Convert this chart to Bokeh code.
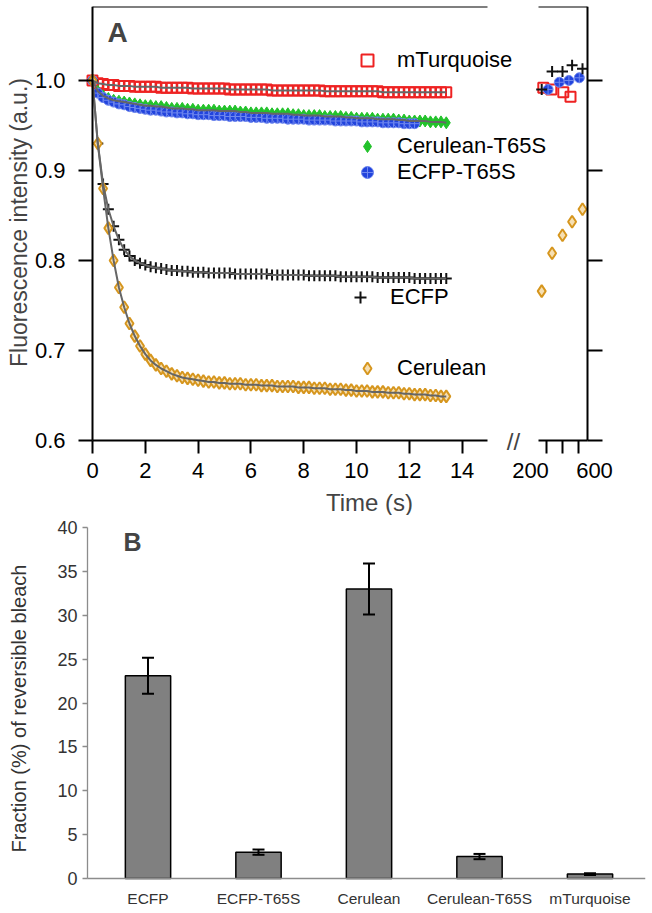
from bokeh.plotting import figure
from bokeh.models import (Range1d, LinearAxis, FixedTicker, NumeralTickFormatter, Legend,
                          LegendItem, Label, ColumnDataSource, Whisker, TeeHead)
from bokeh.layouts import column
from bokeh.embed import file_html
from bokeh.resources import INLINE

FONT = "Liberation Sans"

# ---------------- Panel A data ----------------
time_s = [0.0, 0.2, 0.4, 0.6, 0.8, 1.0, 1.2, 1.4, 1.6, 1.8,
          2.0, 2.2, 2.4, 2.6, 2.8, 3.0, 3.2, 3.4, 3.6, 3.8,
          4.0, 4.2, 4.4, 4.6, 4.8, 5.0, 5.2, 5.4, 5.6, 5.8,
          6.0, 6.2, 6.4, 6.6, 6.8, 7.0, 7.2, 7.4, 7.6, 7.8,
          8.0, 8.2, 8.4, 8.6, 8.8, 9.0, 9.2, 9.4, 9.6, 9.8,
          10.0, 10.2, 10.4, 10.6, 10.8, 11.0, 11.2, 11.4, 11.6, 11.8,
          12.0, 12.2, 12.4, 12.6, 12.8, 13.0, 13.2, 13.4]

mturquoise = [1.000, 0.997, 0.996, 0.995, 0.995, 0.994, 0.994, 0.994, 0.993, 0.993,
              0.993, 0.993, 0.993, 0.992, 0.992, 0.992, 0.992, 0.992, 0.992, 0.991,
              0.991, 0.991, 0.991, 0.991, 0.991, 0.991, 0.990, 0.990, 0.990, 0.990,
              0.990, 0.990, 0.990, 0.990, 0.989, 0.989, 0.989, 0.989, 0.989, 0.989,
              0.989, 0.989, 0.989, 0.989, 0.988, 0.988, 0.988, 0.988, 0.988, 0.988,
              0.988, 0.988, 0.988, 0.988, 0.988, 0.987, 0.987, 0.987, 0.987, 0.987,
              0.987, 0.987, 0.987, 0.987, 0.987, 0.987, 0.987, 0.987]

cerulean_t65s = [1.000, 0.988, 0.983, 0.980, 0.978, 0.977, 0.976, 0.975, 0.974, 0.973,
                 0.972, 0.972, 0.971, 0.971, 0.970, 0.969, 0.969, 0.969, 0.968, 0.968,
                 0.967, 0.967, 0.967, 0.967, 0.966, 0.966, 0.966, 0.966, 0.965, 0.965,
                 0.964, 0.964, 0.964, 0.964, 0.963, 0.963, 0.963, 0.963, 0.962, 0.962,
                 0.961, 0.961, 0.961, 0.961, 0.960, 0.960, 0.960, 0.960, 0.959, 0.959,
                 0.958, 0.958, 0.958, 0.958, 0.957, 0.957, 0.957, 0.957, 0.956, 0.956,
                 0.955, 0.955, 0.955, 0.955, 0.954, 0.954, 0.954, 0.953]

ecfp_t65s = [1.000, 0.986, 0.981, 0.978, 0.976, 0.974, 0.973, 0.971, 0.970, 0.969,
             0.968, 0.967, 0.967, 0.966, 0.965, 0.965, 0.964, 0.964, 0.963, 0.963,
             0.962, 0.962, 0.962, 0.961, 0.961, 0.961, 0.960, 0.960, 0.960, 0.960,
             0.959, 0.959, 0.959, 0.958, 0.958, 0.958, 0.958, 0.957, 0.957, 0.957,
             0.957, 0.956, 0.956, 0.956, 0.956, 0.956, 0.955, 0.955, 0.955, 0.955,
             0.955, 0.954, 0.954, 0.954, 0.954, 0.953, 0.953, 0.953, 0.953, 0.952,
             0.952, 0.952]

ecfp = [1.000, 0.930, 0.885, 0.857, 0.838, 0.823, 0.812, 0.805, 0.800, 0.797,
        0.795, 0.793, 0.792, 0.791, 0.790, 0.789, 0.789, 0.788, 0.788, 0.787,
        0.787, 0.787, 0.786, 0.786, 0.786, 0.786, 0.786, 0.785, 0.785, 0.785,
        0.785, 0.785, 0.785, 0.785, 0.784, 0.784, 0.784, 0.784, 0.784, 0.784,
        0.784, 0.783, 0.783, 0.783, 0.783, 0.783, 0.783, 0.782, 0.782, 0.782,
        0.782, 0.782, 0.782, 0.782, 0.781, 0.781, 0.781, 0.781, 0.781, 0.781,
        0.781, 0.780, 0.780, 0.780, 0.780, 0.780, 0.780, 0.780]

cerulean = [1.000, 0.930, 0.880, 0.836, 0.800, 0.770, 0.748, 0.730, 0.716, 0.705,
            0.696, 0.689, 0.684, 0.680, 0.677, 0.674, 0.672, 0.670, 0.669, 0.668,
            0.667, 0.666, 0.665, 0.665, 0.664, 0.664, 0.663, 0.663, 0.663, 0.662,
            0.662, 0.662, 0.661, 0.661, 0.661, 0.660, 0.660, 0.660, 0.660, 0.659,
            0.659, 0.659, 0.658, 0.658, 0.658, 0.657, 0.657, 0.657, 0.656, 0.656,
            0.655, 0.655, 0.655, 0.654, 0.654, 0.654, 0.653, 0.653, 0.653, 0.652,
            0.652, 0.651, 0.651, 0.651, 0.650, 0.650, 0.649, 0.649]

# recovery in the dark (late time points, s)
late_t_ecfp = [270, 335, 400, 460, 525]
late_ecfp = [0.990, 1.010, 1.010, 1.017, 1.013]
late_t_cerulean = [270, 335, 400, 460, 525]
late_cerulean = [0.766, 0.808, 0.828, 0.843, 0.857]
late_t_mturq = [280, 330, 405, 450]
late_mturq = [0.992, 0.990, 0.987, 0.982]
late_t_ecfp_t65s = [310, 380, 440, 505]
late_ecfp_t65s = [0.990, 0.998, 1.000, 1.003]

y_ticks_a = [0.6, 0.7, 0.8, 0.9, 1.0]
x_ticks_a = [0, 2, 4, 6, 8, 10, 12, 14]
late_ticks = [300, 400, 500]
late_tick_labels = [200, 600]

# ---------------- Panel B data ----------------
proteins = ["ECFP", "ECFP-T65S", "Cerulean", "Cerulean-T65S", "mTurquoise"]
reversible = [23.1, 3.0, 33.0, 2.5, 0.5]
reversible_err = [2.05, 0.3, 2.9, 0.3, 0.1]
y_ticks_b = [0, 5, 10, 15, 20, 25, 30, 35, 40]

# ---------------- styles ----------------
RED = "#ee2222"
GREEN = "#22c22a"
BLUE = "#2244dd"
ORANGE = "#d6961e"
FIT = "#666666"

Y_LO, Y_HI = 0.6, 1.0822          # visible data window of panel A
T0 = 1e-6                         # time origin (y axis position)
MAIN_END = 14.95                  # end of the first time segment
LATE_LO, LATE_HI = 250, 556       # extent of the segment after the break
B_LEFT, B_RIGHT = -0.5475, 4.5025  # extent of the category axis in panel B


def style_axis(ax, ticks, tick_out, size="22px", color="black", width=2):
    ax.ticker = FixedTicker(ticks=ticks)
    ax.axis_line_width = width
    ax.axis_line_color = color
    ax.major_tick_line_width = width
    ax.major_tick_line_color = color
    ax.major_tick_out = tick_out
    ax.major_tick_in = 0
    ax.minor_tick_line_color = None
    ax.major_label_text_font = FONT
    ax.major_label_text_font_size = size
    ax.major_label_text_color = "black"


# ---------------- Panel A ----------------
pA = figure(width=620, height=515,
            x_range=Range1d(-3.485, 19.81), y_range=Range1d(0.51667, Y_HI),
            x_axis_location=None, y_axis_location=None,
            output_backend="svg", toolbar_location=None,
            min_border_left=0, min_border_right=5, min_border_top=6, min_border_bottom=0)
pA.extra_x_ranges = {"late": Range1d(-3112.5, 731.25)}
pA.outline_line_color = None
pA.grid.visible = False

# left axis
yax = LinearAxis(fixed_location=T0, bounds=(Y_LO, Y_HI))
style_axis(yax, y_ticks_a, 14)
yax.formatter = NumeralTickFormatter(format="0.0")
yax.major_label_standoff = 13
pA.add_layout(yax, "left")

# bottom axis, first segment
xax = LinearAxis(fixed_location=Y_LO, bounds=(0, MAIN_END))
style_axis(xax, x_ticks_a, 13)
xax.major_label_standoff = 10
pA.add_layout(xax, "below")

# top border, first segment
top_main = LinearAxis(fixed_location=Y_HI, bounds=(0, MAIN_END))
style_axis(top_main, [], 0)
pA.add_layout(top_main, "above")

# bottom axis after the break
late_ax = LinearAxis(x_range_name="late", fixed_location=Y_LO, bounds=(LATE_LO, LATE_HI))
style_axis(late_ax, late_ticks, 13)
late_ax.major_label_overrides = {v: "" for v in late_ticks}
pA.add_layout(late_ax, "below")

late_lbl = LinearAxis(x_range_name="late", fixed_location=Y_LO)
style_axis(late_lbl, late_tick_labels, 13)
late_lbl.axis_line_color = None
late_lbl.major_tick_line_color = None
late_lbl.major_label_standoff = 10
pA.add_layout(late_lbl, "below")

# top border after the break
top_late = LinearAxis(x_range_name="late", fixed_location=Y_HI, bounds=(LATE_LO, LATE_HI))
style_axis(top_late, [], 0)
pA.add_layout(top_late, "above")

# right axis
right_ax = LinearAxis(x_range_name="late", fixed_location=LATE_HI, bounds=(Y_LO, Y_HI))
style_axis(right_ax, y_ticks_a, 15)
right_ax.major_label_overrides = {v: "" for v in y_ticks_a}
pA.add_layout(right_ax, "right")

# data, first segment
r_mt = pA.scatter(time_s, mturquoise, marker="square", size=10, fill_color=None,
                  line_color=RED, line_width=2)
r_ct = pA.scatter(time_s, cerulean_t65s, marker="diamond", size=12, fill_color=GREEN,
                  line_color=GREEN)
r_et = pA.scatter(time_s[:len(ecfp_t65s)], ecfp_t65s, marker="circle_cross", size=10,
                  fill_color=BLUE, line_color="#7088ee", line_width=1)
r_ec = pA.scatter(time_s, ecfp, marker="cross", size=11, line_color="#111111", line_width=2)
r_ce = pA.scatter(time_s, cerulean, marker="diamond", size=12, fill_color="#f6dfb2",
                  line_color=ORANGE, line_width=2)

for series in (mturquoise, cerulean_t65s, ecfp, cerulean):
    pA.line(time_s, series, line_color=FIT, line_width=2)

# data after the break
pA.scatter(late_t_mturq, late_mturq, x_range_name="late", marker="square", size=10,
           fill_color=None, line_color=RED, line_width=2)
pA.scatter(late_t_ecfp_t65s, late_ecfp_t65s, x_range_name="late", marker="circle_cross",
           size=10, fill_color=BLUE, line_color="#7088ee", line_width=1)
pA.scatter(late_t_ecfp, late_ecfp, x_range_name="late", marker="cross", size=11,
           line_color="#111111", line_width=2)
pA.scatter(late_t_cerulean, late_cerulean, x_range_name="late", marker="diamond", size=12,
           fill_color="#f6dfb2", line_color=ORANGE, line_width=2)


def add_legend(p, renderer, label, x, y):
    leg = Legend(items=[LegendItem(label=label, renderers=[renderer])], location=(x, y),
                 border_line_color=None, background_fill_alpha=0, padding=0, margin=0,
                 spacing=0, glyph_width=30, glyph_height=30, label_standoff=15,
                 label_text_font=FONT, label_text_font_size="22px",
                 label_text_color="black", label_height=20)
    p.add_layout(leg)


add_legend(pA, r_mt, "mTurquoise", 352, 440)
add_legend(pA, r_ct, "Cerulean-T65S", 352, 354)
add_legend(pA, r_et, "ECFP-T65S", 352, 328)
add_legend(pA, r_ec, "ECFP", 345, 203)
add_legend(pA, r_ce, "Cerulean", 352, 132)

pA.add_layout(Label(x=18, y=293, x_units="screen", y_units="screen", angle=90,
                    angle_units="deg", text="Fluorescence intensity (a.u.)",
                    text_font=FONT, text_font_size="23px", text_baseline="middle",
                    text_align="center"))
pA.add_layout(Label(x=107, y=483, x_units="screen", y_units="screen", text="A",
                    text_font=FONT, text_font_size="28px", text_font_style="bold",
                    text_baseline="middle", text_align="left"))
pA.add_layout(Label(x=369, y=13, x_units="screen", y_units="screen", text="Time (s)",
                    text_font=FONT, text_font_size="24px", text_baseline="middle",
                    text_align="center"))
pA.add_layout(Label(x=513, y=74, x_units="screen", y_units="screen", text="//",
                    text_font=FONT, text_font_size="24px", text_baseline="middle",
                    text_align="center"))

# ---------------- Panel B ----------------
xpos = list(range(len(proteins)))
pB = figure(width=650, height=393,
            x_range=Range1d(-1.33484, 4.50226), y_range=Range1d(-3.419, 41.368),
            x_axis_location=None, y_axis_location=None,
            output_backend="svg", toolbar_location=None,
            min_border_left=0, min_border_right=5, min_border_top=0, min_border_bottom=0)
pB.outline_line_color = None
pB.grid.visible = False

pB.vbar(x=xpos, top=reversible, width=0.41, fill_color="#808080", line_color="black",
        line_width=1.5)

err_src = ColumnDataSource(dict(
    x=xpos,
    upper=[v + e for v, e in zip(reversible, reversible_err)],
    lower=[v - e for v, e in zip(reversible, reversible_err)]))
pB.add_layout(Whisker(source=err_src, base="x", upper="upper", lower="lower",
                      line_width=2, line_color="black", level="overlay",
                      upper_head=TeeHead(size=12, line_width=2, line_color="black"),
                      lower_head=TeeHead(size=12, line_width=2, line_color="black")))

byax = LinearAxis(fixed_location=B_LEFT, bounds=(0, 40))
style_axis(byax, y_ticks_b, 5, size="18px", color="#8c8c8c", width=1.3)
byax.major_label_text_color = "#333333"
byax.major_label_standoff = 5
pB.add_layout(byax, "left")

bxax = LinearAxis(fixed_location=0, bounds=(B_LEFT, B_RIGHT))
style_axis(bxax, xpos, 0, size="15.5px", color="#8c8c8c", width=1.3)
bxax.major_tick_line_color = None
bxax.major_label_overrides = {i: name for i, name in zip(xpos, proteins)}
bxax.major_label_text_color = "#333333"
bxax.major_label_standoff = 12
pB.add_layout(bxax, "below")

pB.add_layout(Label(x=18, y=200, x_units="screen", y_units="screen", angle=90,
                    angle_units="deg", text="Fraction (%) of reversible bleach",
                    text_font=FONT, text_font_size="20px", text_color="#333333",
                    text_baseline="middle", text_align="center"))
pB.add_layout(Label(x=123, y=367, x_units="screen", y_units="screen", text="B",
                    text_font=FONT, text_font_size="25px", text_font_style="bold",
                    text_baseline="middle", text_align="left"))

layout = column(pA, pB)
open("out.html", "w").write(file_html(layout, INLINE))
